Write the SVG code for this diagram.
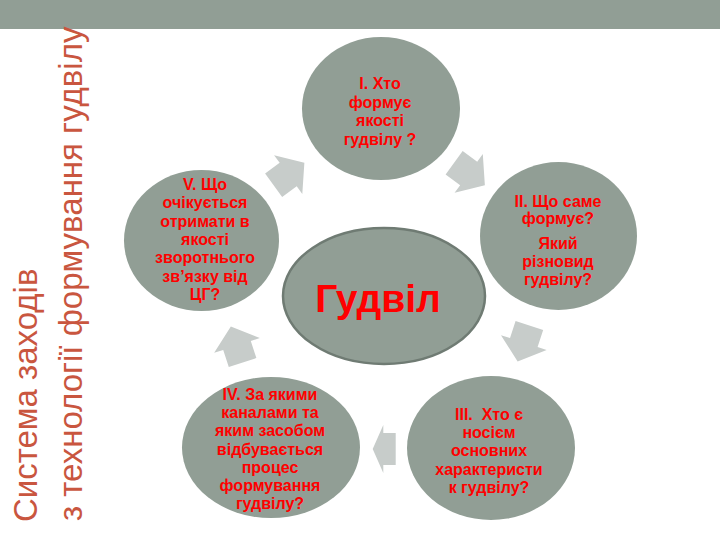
<svg xmlns="http://www.w3.org/2000/svg" width="720" height="540" viewBox="0 0 720 540">
<defs>
<style>
.node{fill:#919e95;}
.arrow{fill:#c7ccca;}
.t{font-family:"Liberation Sans",Arial,sans-serif;font-weight:bold;font-size:16px;fill:#ff0000;text-anchor:middle;}
.title{font-family:"Liberation Sans",Arial,sans-serif;font-size:33px;fill:#c9563f;}
</style>
<polygon id="arr" points="-19,-14.5 -1,-14.5 -1,-24 19,0 -1,24 -1,14.5 -19,14.5"/>
</defs>
<rect x="0" y="0" width="720" height="29" fill="#919e95"/>
<g id="title">
<text class="title" transform="translate(37,522) rotate(-90)">Система заходів</text>
<text class="title" transform="translate(82,521) rotate(-90)">з технології формування гудвілу</text>
</g>
<g id="connectors" class="arrow">
<use href="#arr" transform="translate(469.5,174) rotate(36)"/>
<use href="#arr" transform="translate(523.5,343.5) rotate(108)"/>
<polygon points="372.7,449 383.3,425 383.3,433 395.7,433 395.7,465 383.3,465 383.3,473"/>
<use href="#arr" transform="translate(236.7,344.5) rotate(252)"/>
<use href="#arr" transform="translate(289,174) rotate(-36)"/>
</g>
<g id="center">
<ellipse cx="384" cy="296" rx="101" ry="68" fill="#919e95" stroke="#6f7b73" stroke-width="2.5"/>
<text x="378" y="312" style="font-family:'Liberation Sans',Arial,sans-serif;font-weight:bold;font-size:39px;fill:#ff0000;text-anchor:middle">Гудвіл</text>
</g>
<g id="node1">
<ellipse class="node" cx="381" cy="108.5" rx="79" ry="71.5"/>
<text class="t" x="380" y="89">І. Хто</text>
<text class="t" x="380" y="107.5">формує</text>
<text class="t" x="380" y="126">якості</text>
<text class="t" x="380" y="144.5">гудвілу ?</text>
</g>
<g id="node2">
<ellipse class="node" cx="558.5" cy="236" rx="78.5" ry="74"/>
<text class="t" x="558" y="206.5">ІІ. Що саме</text>
<text class="t" x="558" y="224">формує?</text>
<text class="t" x="558" y="248.5">Який</text>
<text class="t" x="558" y="266.5">різновид</text>
<text class="t" x="558" y="284.5">гудвілу?</text>
</g>
<g id="node3">
<ellipse class="node" cx="491" cy="448" rx="84" ry="72"/>
<text class="t" x="489" y="420" style="white-space:pre">III.  Хто є</text>
<text class="t" x="489" y="438.2">носієм</text>
<text class="t" x="489" y="456.4">основних</text>
<text class="t" x="489" y="474.6">характеристи</text>
<text class="t" x="489" y="492.8">к гудвілу?</text>
</g>
<g id="node4">
<ellipse class="node" cx="271" cy="447.5" rx="89" ry="70.5"/>
<text class="t" x="270" y="400">IV. За якими</text>
<text class="t" x="270" y="418.2">каналами та</text>
<text class="t" x="270" y="436.4">яким засобом</text>
<text class="t" x="270" y="454.6">відбувається</text>
<text class="t" x="270" y="472.8">процес</text>
<text class="t" x="270" y="491">формування</text>
<text class="t" x="270" y="509.2">гудвілу?</text>
</g>
<g id="node5">
<ellipse class="node" cx="201.5" cy="240.5" rx="77.5" ry="70.5"/>
<text class="t" x="205" y="190">V. Що</text>
<text class="t" x="205" y="208.3">очікується</text>
<text class="t" x="205" y="226.7">отримати в</text>
<text class="t" x="205" y="245">якості</text>
<text class="t" x="205" y="263.3">зворотнього</text>
<text class="t" x="205" y="281.7">зв’язку від</text>
<text class="t" x="205" y="300">ЦГ?</text>
</g>
</svg>
